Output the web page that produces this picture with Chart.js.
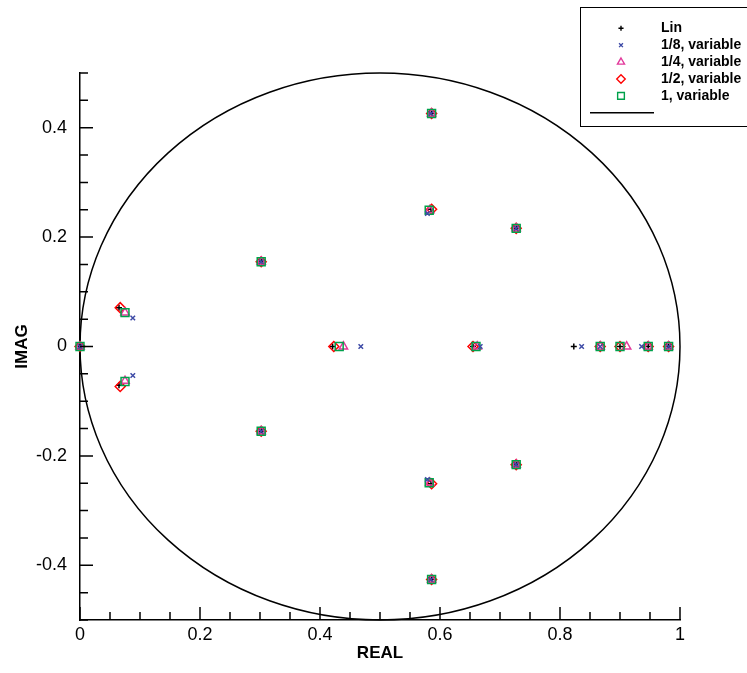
<!DOCTYPE html>
<html>
<head>
<meta charset="utf-8">
<title>Eigenvalues</title>
<script src="https://cdn.jsdelivr.net/npm/chart.js@4.4.1/dist/chart.umd.min.js"></script>
<style>
  html, body { margin: 0; padding: 0; background: #fff; }
  canvas { display: block; }
</style>
</head>
<body>
<canvas id="eigChart" width="747" height="673"></canvas>
<script>
// eigenvalues (real / imaginary parts)
const linReal = [0, 0.065, 0.065, 0.302, 0.302, 0.421, 0.586, 0.586, 0.585, 0.585, 0.655, 0.727, 0.727, 0.823, 0.900, 0.947, 0.981];
const linImag = [0, 0.071, -0.071, 0.155, -0.155, 0, 0.426, -0.426, 0.251, -0.251, 0, 0.216, -0.216, 0, 0, 0, 0];

const eighthReal = [0, 0.088, 0.088, 0.302, 0.302, 0.468, 0.585, 0.585, 0.579, 0.579, 0.667, 0.727, 0.727, 0.836, 0.867, 0.936, 0.981];
const eighthImag = [0, 0.052, -0.053, 0.155, -0.155, 0, 0.426, -0.426, 0.243, -0.243, 0, 0.216, -0.216, 0, 0, 0, 0];

const quarterReal = [0, 0.075, 0.075, 0.302, 0.302, 0.439, 0.586, 0.586, 0.583, 0.583, 0.662, 0.727, 0.727, 0.867, 0.911, 0.947, 0.981];
const quarterImag = [0, 0.062, -0.063, 0.155, -0.155, 0, 0.426, -0.426, 0.249, -0.249, 0, 0.216, -0.216, 0, 0, 0, 0];

const halfReal = [0, 0.067, 0.067, 0.302, 0.302, 0.423, 0.586, 0.586, 0.586, 0.586, 0.655, 0.727, 0.727, 0.867, 0.900, 0.947, 0.981];
const halfImag = [0, 0.071, -0.073, 0.155, -0.155, 0, 0.426, -0.426, 0.251, -0.251, 0, 0.216, -0.216, 0, 0, 0, 0];

const oneReal = [0, 0.075, 0.075, 0.302, 0.302, 0.432, 0.586, 0.586, 0.582, 0.582, 0.660, 0.727, 0.727, 0.867, 0.900, 0.947, 0.981];
const oneImag = [0, 0.062, -0.064, 0.155, -0.155, 0, 0.426, -0.426, 0.249, -0.249, 0, 0.216, -0.216, 0, 0, 0, 0];

const seriesLabels = ['Lin', '1/8, variable', '1/4, variable', '1/2, variable', '1, variable'];

// circle |z - 0.5| = 0.5
const circleCenter = [0.5, 0];
const circleRadius = 0.5;

const xTickLabels = [0, 0.2, 0.4, 0.6, 0.8, 1];
const yTickLabels = [-0.4, -0.2, 0, 0.2, 0.4];

const FONT = '"Liberation Sans", Arial, Helvetica, sans-serif';

const toPoints = (re, im) => re.map((x, i) => ({ x, y: im[i] }));
const isMajor = (v, list) => list.some(t => Math.abs(t - v) < 1e-6);

// lower order = drawn on top
const styles = [
  { color: '#000000', pointStyle: 'cross', radius: 3, order: 4 },
  { color: '#3d4aa6', pointStyle: 'crossRot', radius: 3.2, order: 0 },
  { color: '#e2399b', pointStyle: 'triangle', radius: 4.8, order: 2 },
  { color: '#ff0000', pointStyle: 'rectRot', radius: 5, order: 3 },
  { color: '#00a14b', pointStyle: 'rect', radius: 5.6, order: 1 }
];

const allData = [
  toPoints(linReal, linImag),
  toPoints(eighthReal, eighthImag),
  toPoints(quarterReal, quarterImag),
  toPoints(halfReal, halfImag),
  toPoints(oneReal, oneImag)
];

// circle drawn from the scales
const circlePlugin = {
  id: 'circle',
  beforeDatasetsDraw(chart) {
    const { ctx, scales: { x, y } } = chart;
    const cx = x.getPixelForValue(circleCenter[0]);
    const cy = y.getPixelForValue(circleCenter[1]);
    const rx = x.getPixelForValue(circleCenter[0] + circleRadius) - cx;
    const ry = cy - y.getPixelForValue(circleCenter[1] + circleRadius);
    ctx.save();
    ctx.beginPath();
    ctx.ellipse(cx, cy, rx, ry, 0, 0, Math.PI * 2);
    ctx.strokeStyle = '#000';
    ctx.lineWidth = 1.5;
    ctx.stroke();
    ctx.restore();
  }
};

// tick marks pointing inside the plot
const innerTicks = {
  id: 'innerTicks',
  afterDraw(chart) {
    const { ctx, chartArea, scales: { x, y } } = chart;
    ctx.save();
    ctx.strokeStyle = '#000';
    ctx.lineWidth = 1.5;
    ctx.beginPath();
    x.ticks.forEach(t => {
      const px = x.getPixelForValue(t.value);
      const len = isMajor(t.value, xTickLabels) ? 13 : 8;
      ctx.moveTo(px, chartArea.bottom);
      ctx.lineTo(px, chartArea.bottom - len);
    });
    y.ticks.forEach(t => {
      const py = y.getPixelForValue(t.value);
      const len = isMajor(t.value, yTickLabels) ? 13 : 8;
      ctx.moveTo(chartArea.left, py);
      ctx.lineTo(chartArea.left + len, py);
    });
    ctx.stroke();
    ctx.restore();
  }
};

// boxed legend top right
const boxLegend = {
  id: 'boxLegend',
  afterDraw(chart) {
    const ctx = chart.ctx;
    const left = 580, top = 7, rowH = 16.9, firstRow = 28.3;
    ctx.save();
    ctx.strokeStyle = '#000';
    ctx.lineWidth = 1;
    ctx.strokeRect(left + 0.5, top + 0.5, 200, 119);
    ctx.font = 'bold 14px ' + FONT;
    ctx.textBaseline = 'middle';
    ctx.textAlign = 'left';
    styles.forEach((s, i) => {
      const yy = firstRow + i * rowH;
      ctx.strokeStyle = s.color;
      ctx.fillStyle = 'rgba(0,0,0,0)';
      ctx.lineWidth = 1.4;
      Chart.helpers.drawPoint(ctx, { pointStyle: s.pointStyle, radius: s.radius * 0.85, rotation: 0, borderWidth: 1.4 }, 621, yy);
      ctx.fillStyle = '#000';
      ctx.fillText(seriesLabels[i], 661, yy);
    });
    const ly = firstRow + 5 * rowH;
    ctx.strokeStyle = '#000';
    ctx.lineWidth = 1.5;
    ctx.beginPath();
    ctx.moveTo(590, ly);
    ctx.lineTo(654, ly);
    ctx.stroke();
    ctx.restore();
  }
};

new Chart(document.getElementById('eigChart'), {
  type: 'scatter',
  data: {
    datasets: allData.map((pts, i) => ({
      label: seriesLabels[i],
      data: pts,
      showLine: false,
      pointStyle: styles[i].pointStyle,
      pointRadius: styles[i].radius,
      pointBorderColor: styles[i].color,
      pointBackgroundColor: 'rgba(0,0,0,0)',
      pointBorderWidth: 1.5,
      order: styles[i].order,
      clip: false
    }))
  },
  options: {
    responsive: false,
    animation: false,
    events: [],
    layout: { padding: { top: 73, right: 67, left: 0, bottom: 0 } },
    plugins: {
      legend: { display: false },
      tooltip: { enabled: false }
    },
    scales: {
      x: {
        type: 'linear',
        min: 0,
        max: 1,
        grid: { display: false, drawTicks: false },
        border: { display: true, color: '#000', width: 1.5 },
        ticks: {
          stepSize: 0.05,
          autoSkip: false,
          maxRotation: 0,
          padding: 4,
          color: '#000',
          font: { family: FONT, size: 18 },
          callback: v => isMajor(v, xTickLabels) ? String(Math.round(v * 10) / 10) : ''
        },
        title: {
          display: true,
          text: 'REAL',
          color: '#000',
          font: { family: FONT, size: 17, weight: 'bold' },
          padding: { top: 0, bottom: 9 }
        },
        afterFit: s => { s.height = 53; }
      },
      y: {
        type: 'linear',
        min: -0.5,
        max: 0.5,
        grid: { display: false, drawTicks: false },
        border: { display: true, color: '#000', width: 1.5 },
        ticks: {
          stepSize: 0.05,
          autoSkip: false,
          padding: 13,
          color: '#000',
          font: { family: FONT, size: 18 },
          callback: v => isMajor(v, yTickLabels) ? String(Math.round(v * 10) / 10) : ''
        },
        title: {
          display: true,
          text: 'IMAG',
          color: '#000',
          font: { family: FONT, size: 17, weight: 'bold' },
          padding: { top: 12, bottom: 0 }
        },
        afterFit: s => { s.width = 80; }
      }
    }
  },
  plugins: [circlePlugin, innerTicks, boxLegend]
});
</script>
</body>
</html>
